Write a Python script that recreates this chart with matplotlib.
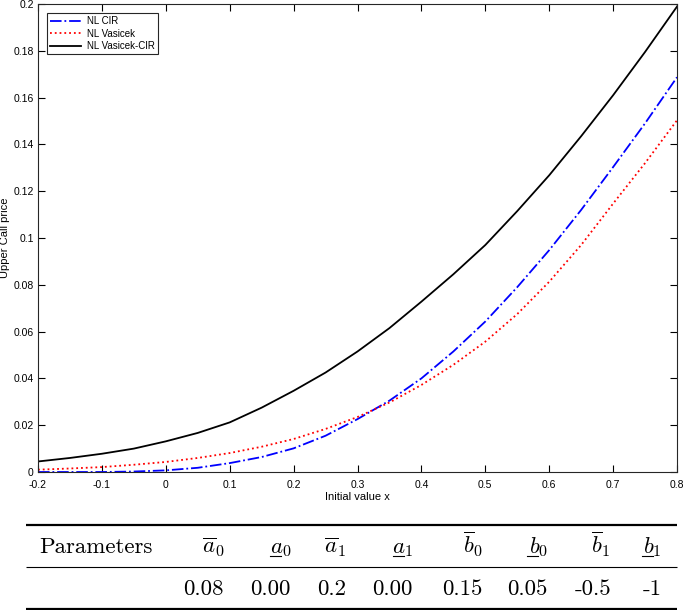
import matplotlib
matplotlib.use('Agg')
import matplotlib.pyplot as plt

# curve values
x_vals = [-0.2, -0.15, -0.1, -0.05, 0.0, 0.05, 0.1, 0.15, 0.2, 0.25, 0.3,
          0.35, 0.4, 0.45, 0.5, 0.55, 0.6, 0.65, 0.7, 0.75, 0.8]
nl_cir = [0.0, 0.0, 0.0, 0.0002, 0.0007, 0.0018, 0.0038, 0.0064, 0.0101, 0.0155, 0.0226,
          0.0305, 0.0400, 0.0515, 0.0643, 0.0790, 0.0948, 0.1120, 0.1303, 0.1490, 0.1687]
nl_vasicek = [0.0010, 0.0015, 0.0021, 0.0031, 0.0043, 0.0060, 0.0081, 0.0108, 0.0141, 0.0184, 0.0235,
              0.0297, 0.0372, 0.0458, 0.0557, 0.0675, 0.0813, 0.0970, 0.1147, 0.1320, 0.1503]
nl_vasicek_cir = [0.0045, 0.0060, 0.0078, 0.0100, 0.0131, 0.0167, 0.0212, 0.0275, 0.0347, 0.0425, 0.0515,
                  0.0615, 0.0728, 0.0845, 0.0970, 0.1115, 0.1268, 0.1435, 0.1610, 0.1795, 0.1989]

# parameter table
param_labels = [r'$\overline{a}_0$', r'$a_0$', r'$\overline{a}_1$', r'$a_1$',
                r'$\overline{b}_0$', r'$b_0$', r'$\overline{b}_1$', r'$b_1$']
param_under = [False, True, False, True, False, True, False, True]
param_values = ['0.08', '0.00', '0.2', '0.00', '0.15', '0.05', '-0.5', '-1']

plt.rcParams['font.family'] = ['Liberation Sans', 'DejaVu Sans']
plt.rcParams['mathtext.fontset'] = 'cm'

fig = plt.figure(figsize=(6.85, 6.1), dpi=100)

# overlay in pixel units for the table below the plot
tab = fig.add_axes([0, 0, 1, 1])
tab.set_xlim(0, 685)
tab.set_ylim(610, 0)
tab.axis('off')

ax = fig.add_axes([38 / 685, 1 - 472 / 610, 639 / 685, 468 / 610])

ax.plot(x_vals, nl_cir, color='blue', linestyle='-.', linewidth=1.3, label='NL CIR')
ax.plot(x_vals, nl_vasicek, color='red', linestyle=':', linewidth=1.3, label='NL Vasicek')
ax.plot(x_vals, nl_vasicek_cir, color='black', linestyle='-', linewidth=1.3, label='NL Vasicek-CIR')

ax.set_xlim(-0.2, 0.8)
ax.set_ylim(0, 0.2)
ax.set_xticks([-0.2, -0.1, 0, 0.1, 0.2, 0.3, 0.4, 0.5, 0.6, 0.7, 0.8])
ax.set_xticklabels(['-0.2', '-0.1', '0', '0.1', '0.2', '0.3', '0.4', '0.5', '0.6', '0.7', '0.8'])
ax.set_yticks([0, 0.02, 0.04, 0.06, 0.08, 0.1, 0.12, 0.14, 0.16, 0.18, 0.2])
ax.set_yticklabels(['0', '0.02', '0.04', '0.06', '0.08', '0.1', '0.12', '0.14', '0.16', '0.18', '0.2'])
ax.tick_params(direction='in', top=True, right=True, length=5, width=0.8, labelsize=7.5)
ax.tick_params(axis='x', pad=5.5)
ax.tick_params(axis='y', pad=3)
for s in ax.spines.values():
    s.set_color('#262626')
    s.set_linewidth(0.8)

ax.set_xlabel('Initial value x', fontsize=8, labelpad=1.5)
ax.set_ylabel('Upper Call price', fontsize=8, va='center')
ax.yaxis.set_label_coords(-0.051, 0.5)

leg = ax.legend(loc='upper left', fontsize=7, handlelength=3.2, borderaxespad=0.9,
                fancybox=False, framealpha=1, edgecolor='#262626',
                borderpad=0.35, labelspacing=0.25, handletextpad=0.6)
leg.get_frame().set_linewidth(0.8)

# table lines
tab.hlines([525, 609], 26, 677, color='black', linewidth=1.6)
tab.hlines([567], 26, 677, color='black', linewidth=0.8)

fs = 16.5
tab.text(39, 553, 'Parameters', family='cmr10', fontsize=fs, ha='left', va='baseline')
right_edges = [224, 291, 346, 413, 483, 548, 611, 662]
for xr, lab in zip(right_edges, param_labels):
    tab.text(xr, 553, lab, fontsize=fs, ha='right', va='baseline')
for xr, val in zip(right_edges, param_values):
    tab.text(xr, 595, val, family='cmr10', fontsize=fs, ha='right', va='baseline')

# underline the lower-bound symbols, under the letter only (not the subscript)
for xr, lab, under in zip(right_edges, param_labels, param_under):
    if not under:
        continue
    sub_w = 9 if lab.endswith('0$') else 7.5
    tab.plot([xr - sub_w - 12, xr - sub_w - 1], [556, 556], color='black', linewidth=0.8)

fig.savefig('out.png', dpi=100)
